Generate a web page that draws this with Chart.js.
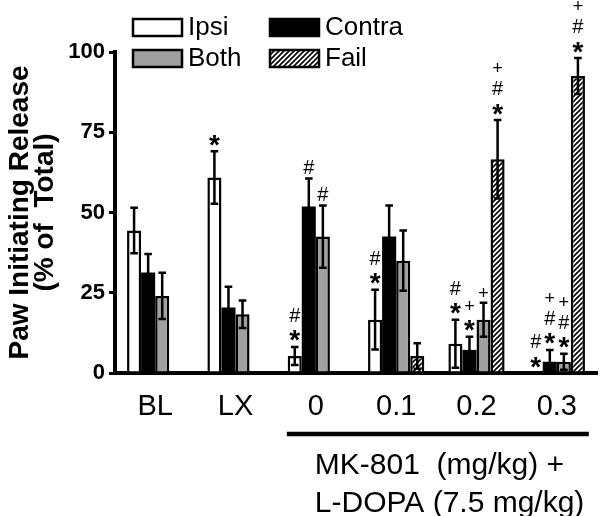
<!DOCTYPE html>
<html><head><meta charset="utf-8">
<script src="https://cdn.jsdelivr.net/npm/chart.js@4.4.1/dist/chart.umd.min.js"></script>
<style>html,body{margin:0;padding:0;background:#fff}</style>
</head><body>
<canvas id="c" width="600" height="516"></canvas>
<script>
const categories = ['BL', 'LX', '0', '0.1', '0.2', '0.3'];
const seriesNames = ['Ipsi', 'Contra', 'Both', 'Fail'];
const ipsi      = [44.4, 60.9, 5.3, 16.6, 9.1, 0];
const ipsiErr   = [7.1, 8.2, 2.8, 9.3, 7.5, 0];
const contra    = [31.3, 20.4, 51.9, 42.5, 7.2, 3.5];
const contraErr = [5.8, 6.5, 8.7, 9.7, 4.1, 3.7];
const both      = [24.0, 18.3, 42.5, 35.0, 16.6, 3.5];
const bothErr   = [7.2, 4.3, 9.7, 9.4, 5.3, 2.5];
const fail      = [0, 0, 0, 5.3, 66.6, 92.5];
const failErr   = [0, 0, 0, 4.0, 12.2, 5.6];
const ipsiMarks   = ['', '*', '*#', '*#', '*#', '*#'];
const contraMarks = ['', '', '#', '', '*+', '*#+'];
const bothMarks   = ['', '', '#', '', '+', '*#+'];
const failMarks   = ['', '', '', '', '*#+', '*#+'];
const yTicks = [0, 25, 50, 75, 100];
const yTitle = ['Paw Initiating Release', '(% of  Total)'];
const groupLabel = ['MK-801  (mg/kg) +', 'L-DOPA (7.5 mg/kg)'];

const FONT = "'Liberation Sans', Arial, sans-serif";
const errs = [ipsiErr, contraErr, bothErr, failErr];
const marks = [ipsiMarks, contraMarks, bothMarks, failMarks];

function hatch() {
  const s = 5;
  const c = document.createElement('canvas');
  c.width = s; c.height = s;
  const g = c.getContext('2d');
  g.fillStyle = '#fff'; g.fillRect(0, 0, s, s);
  g.strokeStyle = '#000'; g.lineWidth = 1.6;
  g.beginPath();
  g.moveTo(-1, s + 1); g.lineTo(s + 1, -1);
  g.moveTo(-1, 1); g.lineTo(1, -1);
  g.moveTo(s - 1, s + 1); g.lineTo(s + 1, s - 1);
  g.stroke();
  return g.createPattern(c, 'repeat');
}
const fills = ['#ffffff', '#000000', '#a0a0a0', hatch()];
const borders = [2.5, 0, 2.5, 2.5];
const values = [ipsi, contra, both, fail];

const errorBarPlugin = {
  id: 'errorBars',
  afterDatasetsDraw(chart) {
    const ctx = chart.ctx, y = chart.scales.y;
    ctx.save();
    ctx.strokeStyle = '#000';
    ctx.lineWidth = 2.5;
    chart.data.datasets.forEach((ds, di) => {
      const meta = chart.getDatasetMeta(di);
      ds.data.forEach((v, j) => {
        const e = errs[di][j];
        if (!e) return;
        const x = meta.data[j].x;
        const yt = y.getPixelForValue(v + e), yb = y.getPixelForValue(Math.max(0, v - e));
        ctx.beginPath();
        ctx.moveTo(x, yb); ctx.lineTo(x, yt);
        ctx.moveTo(x - 3.8, yt); ctx.lineTo(x + 3.8, yt);
        ctx.moveTo(x - 3.8, yb); ctx.lineTo(x + 3.8, yb);
        ctx.stroke();
      });
    });
    // significance marks
    const glyphFont = {'*': 'bold 28px ' + FONT, '#': '20px ' + FONT, '+': '18px ' + FONT};
    ctx.fillStyle = '#000';
    ctx.textAlign = 'center';
    ctx.textBaseline = 'alphabetic';
    chart.data.datasets.forEach((ds, di) => {
      const meta = chart.getDatasetMeta(di);
      ds.data.forEach((v, j) => {
        const m = marks[di][j];
        if (!m) return;
        const x = meta.data[j].x;
        const base = y.getPixelForValue(v + errs[di][j]) - 11;
        [...m].forEach((ch, k) => {
          ctx.font = glyphFont[ch];
          const mt = ctx.measureText(ch);
          const cy = base - 21 * k;
          ctx.fillText(ch, x, cy + (mt.actualBoundingBoxAscent - mt.actualBoundingBoxDescent) / 2);
        });
      });
    });
    ctx.restore();
  }
};

const legendPlugin = {
  id: 'customLegend',
  afterDraw(chart) {
    const ctx = chart.ctx;
    const pos = [[133, 19], [270, 19], [133, 50], [270, 50]];
    ctx.save();
    chart.data.datasets.forEach((ds, i) => {
      const [bx, by] = pos[i];
      ctx.fillStyle = ds.backgroundColor;
      ctx.fillRect(bx, by, 49, 17);
      ctx.strokeStyle = '#000';
      ctx.lineWidth = 2.5;
      ctx.strokeRect(bx, by, 49, 17);
      ctx.fillStyle = '#000';
      ctx.font = '26px ' + FONT;
      ctx.textAlign = 'left';
      ctx.textBaseline = 'middle';
      ctx.fillText(ds.label, bx + 55, by + 9);
    });
    ctx.restore();
  }
};

const groupPlugin = {
  id: 'groupLabel',
  afterDraw(chart) {
    const ctx = chart.ctx, x = chart.scales.x;
    const x0 = x.getPixelForValue(2), x1 = x.getPixelForValue(5);
    ctx.save();
    ctx.strokeStyle = '#000';
    ctx.lineWidth = 4.5;
    ctx.beginPath();
    ctx.moveTo(x0 - 29, 434); ctx.lineTo(x1 + 32, 434);
    ctx.stroke();
    ctx.fillStyle = '#000';
    ctx.font = '30px ' + FONT;
    ctx.textAlign = 'left';
    ctx.textBaseline = 'alphabetic';
    ctx.fillText(groupLabel[0], x0 - 1, 474);
    ctx.fillText(groupLabel[1], x0 - 1, 512);
    ctx.restore();
  }
};

new Chart(document.getElementById('c'), {
  type: 'bar',
  data: {
    labels: categories,
    datasets: seriesNames.map((n, i) => ({
      label: n,
      data: values[i],
      backgroundColor: fills[i],
      borderColor: '#000',
      borderWidth: borders[i],
      borderSkipped: 'bottom',
      categoryPercentage: 0.7,
      barPercentage: 1.0
    }))
  },
  options: {
    responsive: false,
    animation: false,
    devicePixelRatio: 1,
    layout: { padding: { top: 52, right: 3, left: 0, bottom: 0 } },
    plugins: { legend: { display: false }, tooltip: { enabled: false } },
    scales: {
      x: {
        offset: true,
        grid: { display: false, drawTicks: false },
        border: { display: true, color: '#000', width: 4 },
        ticks: { color: '#000', font: { family: FONT, size: 29 }, padding: 17, maxRotation: 0, autoSkip: false },
        afterFit(s) { s.height = 143; }
      },
      y: {
        min: 0, max: 100,
        afterBuildTicks(s) { s.ticks = yTicks.map(v => ({ value: v })); },
        grid: { display: true, drawOnChartArea: false, drawTicks: true, tickLength: 6, tickWidth: 3, tickColor: '#000', color: '#000', lineWidth: 3 },
        border: { display: true, color: '#000', width: 4 },
        ticks: { color: '#000', font: { family: FONT, size: 22, weight: 'bold' }, padding: 4 },
        title: { display: true, text: yTitle, color: '#000', font: { family: FONT, size: 28, weight: 'bold', lineHeight: 0.88 }, padding: { top: 8, bottom: 0 } },
        afterFit(s) { s.width = 115; }
      }
    }
  },
  plugins: [errorBarPlugin, legendPlugin, groupPlugin]
});
</script>
</body></html>
